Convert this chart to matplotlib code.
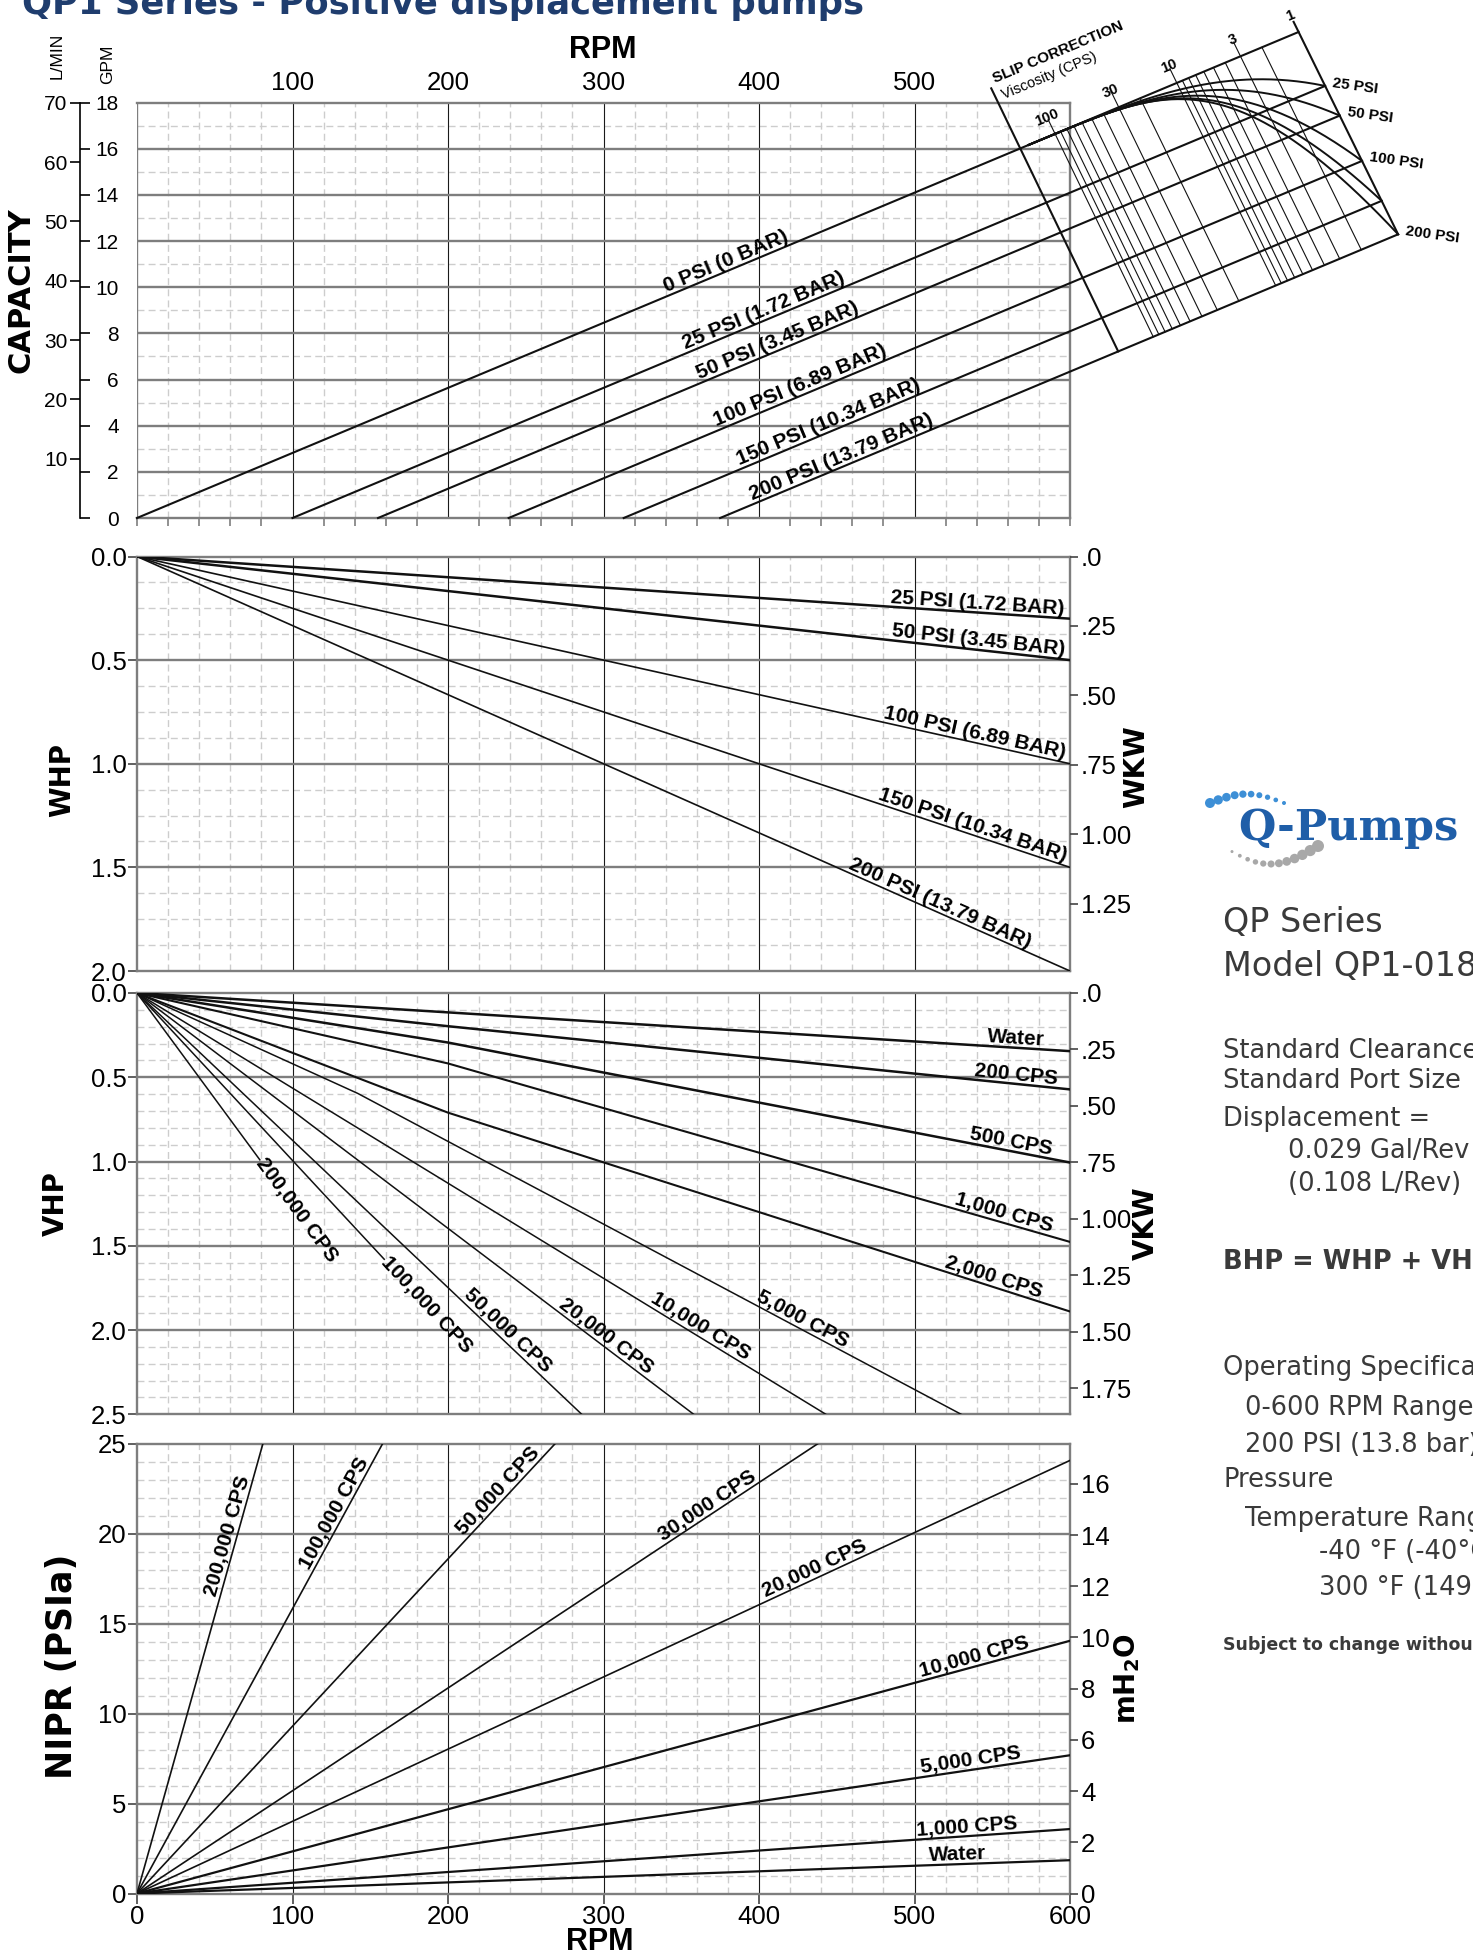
import numpy as np
import matplotlib.pyplot as plt

plt.rcParams['font.family'] = ['Liberation Sans', 'DejaVu Sans']

W, H, DPI = 1473, 1957, 100

# ---------------- values ----------------
rpm_ticks = [0, 100, 200, 300, 400, 500, 600]

# capacity: GPM = cap_slope * (RPM - start)
cap_slope = 0.0282
cap_names = ['0 PSI (0 BAR)', '25 PSI (1.72 BAR)', '50 PSI (3.45 BAR)',
             '100 PSI (6.89 BAR)', '150 PSI (10.34 BAR)', '200 PSI (13.79 BAR)']
cap_start = [0, 100, 155, 239, 313, 375]
cap_label_at = [381, 405, 414, 429, 447, 455]
gpm_ticks = list(range(0, 19, 2))
lmin_ticks = list(range(10, 71, 10))

# slip correction nomogram
slip_names = ['25 PSI', '50 PSI', '100 PSI', '', '200 PSI']
slip_power = [3.5, 3.5, 3.8, 4.0, 4.2]
visc_lines = [1, 2, 3, 4, 5, 6, 7, 8, 9, 10, 20, 30, 40, 50, 60, 70, 80, 90, 100]
visc_labels = [1, 3, 10, 30, 100]

# WHP
whp_names = ['25 PSI (1.72 BAR)', '50 PSI (3.45 BAR)', '100 PSI (6.89 BAR)',
             '150 PSI (10.34 BAR)', '200 PSI (13.79 BAR)']
whp_600 = [0.30, 0.50, 1.00, 1.50, 2.00]
whp_label_at = [596, 596, 596, 596, 572]
whp_ticks = [0, 0.5, 1.0, 1.5, 2.0]
kw_ticks = [0, 0.25, 0.50, 0.75, 1.00, 1.25]
kw_labels = ['.0', '.25', '.50', '.75', '1.00', '1.25']

# VHP (polylines)
vhp_names = ['Water', '200 CPS', '500 CPS', '1,000 CPS', '2,000 CPS', '5,000 CPS',
             '10,000 CPS', '20,000 CPS', '50,000 CPS', '100,000 CPS', '200,000 CPS']
vhp_rpm = [[0, 600], [0, 200, 600], [0, 200, 600], [0, 200, 600], [0, 200, 600],
           [0, 142, 530], [0, 443], [0, 358], [0, 286], [0, 159], [0, 79]]
vhp_val = [[0, 0.345], [0, 0.197, 0.572], [0, 0.294, 1.006], [0, 0.418, 1.477],
           [0, 0.71, 1.89], [0, 0.596, 2.5], [0, 2.5], [0, 2.5], [0, 2.5],
           [0, 1.58], [0, 0.99]]
vhp_label_at = [565, 565, 561, 556, 549, 425, 359, 298, 234, 159, 79]
vhp_ticks = [0, 0.5, 1.0, 1.5, 2.0, 2.5]
vkw_ticks = [0, 0.25, 0.50, 0.75, 1.00, 1.25, 1.50, 1.75]
vkw_labels = ['.0', '.25', '.50', '.75', '1.00', '1.25', '1.50', '1.75']

# NIPR (straight lines from origin)
nipr_names = ['Water', '1,000 CPS', '5,000 CPS', '10,000 CPS', '20,000 CPS',
              '30,000 CPS', '50,000 CPS', '100,000 CPS', '200,000 CPS']
nipr_end_rpm = [600, 600, 600, 600, 600, 438, 269, 158, 81]
nipr_end_val = [1.85, 3.58, 7.68, 14.04, 24.06, 25, 25, 25, 25]
nipr_label_at = [528, 534, 537, 540, 438, 370, 237, 132, 64]
nipr_ticks = [0, 5, 10, 15, 20, 25]
mh2o_ticks = list(range(0, 17, 2))

HP_TO_KW = 0.7457
PSI_TO_M = 0.7031
GPM_TO_L = 3.89

fig = plt.figure(figsize=(W / DPI, H / DPI), dpi=DPI)


def panel(top, bottom):
    return fig.add_axes([137 / W, 1 - bottom / H, (1070 - 137) / W, (bottom - top) / H])


def ftext(x, y, s, **kw):
    fig.text(x / W, 1 - y / H, s, **kw)


GRAY = '#7e7e7e'
LIGHT = '#cdcdcd'
TICKFS = 18.5


def grid(ax, ymaj, ymin):
    for x in range(20, 600, 20):
        if x % 100:
            ax.axvline(x, color=LIGHT, lw=1.0, ls=(0, (5, 3)), zorder=0.5)
    for y in ymin:
        ax.axhline(y, color=LIGHT, lw=1.0, ls=(0, (5, 3)), zorder=0.5)
    for x in range(100, 600, 100):
        ax.axvline(x, color='#1a1a1a', lw=0.8, zorder=1)
    for y in ymaj:
        ax.axhline(y, color=GRAY, lw=1.7, zorder=1)
    for sp in ax.spines.values():
        sp.set_color(GRAY)
        sp.set_linewidth(1.7)
    ax.set_xlim(0, 600)


def seg_slope(xs, ys, x):
    i = int(np.clip(np.searchsorted(xs, x) - 1, 0, len(xs) - 2))
    return (ys[i + 1] - ys[i]) / (xs[i + 1] - xs[i])


def line_label(ax, xs, ys, x, text, ha='center', va='bottom', size=15):
    y = np.interp(x, xs, ys)
    k = seg_slope(xs, ys, x)
    ax.text(x, y, text, rotation=np.degrees(np.arctan(k)), transform_rotates_text=True,
            rotation_mode='anchor', ha=ha, va=va, fontsize=size, fontweight='bold',
            zorder=6, clip_on=False)


def twin_right(ax, lim, ticks, labels, inverted):
    t = ax.twinx()
    t.set_ylim((lim, 0) if inverted else (0, lim))
    t.set_yticks(ticks)
    t.set_yticklabels(labels)
    t.tick_params(axis='y', direction='out', length=6, width=1.2, color='#444',
                  labelsize=TICKFS, pad=2)
    for sp in t.spines.values():
        sp.set_visible(False)
    return t


# ---------------- panel 1: capacity ----------------
ax1 = panel(102.7, 518)
grid(ax1, range(2, 18, 2), range(1, 18, 2))
ax1.set_ylim(0, 18)
ax1.axvline(0, color=GRAY, lw=1.7, zorder=1)
ax1.set_xticks([100, 200, 300, 400, 500])
ax1.tick_params(axis='x', which='major', top=False, bottom=False, labeltop=True,
                labelbottom=False, labelsize=TICKFS, pad=2)
ax1.set_xticks(np.arange(0, 601, 20), minor=True)
ax1.tick_params(axis='x', which='minor', bottom=True, top=False, length=6,
                direction='out', color=GRAY, width=1.2)
ax1.spines['left'].set_position(('outward', 41))
ax1.spines['left'].set_color('k')
ax1.spines['left'].set_linewidth(1.2)
ax1.set_yticks(gpm_ticks)
ax1.tick_params(axis='y', direction='in', length=7.5, width=1.2, color='k',
                labelsize=15, pad=-28)

axL = ax1.twinx()
axL.set_ylim(0, 18 * GPM_TO_L)
axL.yaxis.tick_left()
axL.set_yticks(lmin_ticks)
axL.tick_params(axis='y', direction='out', length=7, width=1.2, color='k',
                labelsize=15, pad=2, right=False, labelright=False)
for sp in axL.spines.values():
    sp.set_visible(False)
axL.spines['left'].set_position(('outward', 41))

# nomogram geometry (RPM positions along the 0 PSI and 200 PSI lines)
nomo_top = (568, 747)
nomo_bot = (631, 811)
visc_decade = 78.3


def nomo(f, s):
    f = np.asarray(f, float)
    s = np.asarray(s, float)
    rt = nomo_top[0] + f * (nomo_top[1] - nomo_top[0])
    rb = nomo_bot[0] + f * (nomo_bot[1] - nomo_bot[0])
    r = rt + s * (rb - rt)
    g = cap_slope * rt + s * (cap_slope * (rb - cap_start[-1]) - cap_slope * rt)
    return r, g


def visc_f(v):
    return (nomo_top[1] - np.log10(v) * visc_decade - nomo_top[0]) / (nomo_top[1] - nomo_top[0])


smax = cap_start[-1]
for name, st, lab_at in zip(cap_names, cap_start, cap_label_at):
    ex, ey = nomo(1.0, st / smax)
    ax1.plot([st, ex], [0, ey], color='#111', lw=1.5, clip_on=False, zorder=4)
    line_label(ax1, [st, 600], [0, cap_slope * (600 - st)], lab_at, name, size=15)

# axes of the nomogram
for f, s0 in ((0.0, -0.296), (1.0, -0.05)):
    r, g = nomo([f, f], [s0, 1.0])
    ax1.plot(r, g, color='#111', lw=1.5, clip_on=False, zorder=4)
for v in visc_lines[1:]:
    f = visc_f(v)
    s0 = -0.07 if v in visc_labels else 0.0
    r, g = nomo([f, f], [s0, 1.0])
    ax1.plot(r, g, color='#111', lw=0.8, clip_on=False, zorder=4)

ff = np.linspace(0.03, 1, 200)
for name, st, pw in zip(slip_names, cap_start[1:], slip_power):
    s_end = st / smax
    r, g = nomo(ff, s_end * ((ff - 0.03) / 0.97) ** pw)
    ax1.plot(r, g, color='#111', lw=1.4, clip_on=False, zorder=4)
    if name:
        ax1.annotate(name, nomo(1.0, s_end), xytext=(5, 0), textcoords='offset points',
                     ha='left', va='center', rotation=-8, fontsize=11, fontweight='bold',
                     annotation_clip=False)

p = ax1.transData.transform([(0, 0), (600, 600 * cap_slope)])
top_ang = np.degrees(np.arctan2(p[1, 1] - p[0, 1], p[1, 0] - p[0, 0]))
q = ax1.transData.transform(np.array(nomo([0, 0], [1, 0])).T)
up = (q[1] - q[0]) / np.hypot(*(q[1] - q[0]))
for v in visc_labels:
    ax1.annotate(str(v), nomo(visc_f(v), 0.0), xytext=(up[0] * 13, up[1] * 13),
                 textcoords='offset points', ha='center', va='center', rotation=top_ang,
                 fontsize=10.5, fontweight='bold', annotation_clip=False)
axis_top = nomo(0.0, -0.296)
ax1.annotate('SLIP CORRECTION', axis_top, xytext=(3, 4), textcoords='offset points',
             ha='left', va='baseline', rotation=top_ang, rotation_mode='anchor',
             fontsize=11, fontweight='bold', annotation_clip=False)
ax1.annotate('Viscosity (CPS)', axis_top, xytext=(9, -8), textcoords='offset points',
             ha='left', va='baseline', rotation=top_ang, rotation_mode='anchor',
             fontsize=10.5, annotation_clip=False)

# ---------------- panel 2: WHP ----------------
ax2 = panel(556.5, 971)
grid(ax2, [0.5, 1.0, 1.5], [y for y in np.arange(0.125, 2.0, 0.125) if y % 0.5])
ax2.set_ylim(2.0, 0)
ax2.set_xticks([])
ax2.set_yticks(whp_ticks)
ax2.set_yticklabels(['%.1f' % t for t in whp_ticks])
ax2.tick_params(axis='y', direction='out', length=6.5, width=1.2, color='#444',
                labelsize=TICKFS, pad=1)
twin_right(ax2, 2.0 * HP_TO_KW, kw_ticks, kw_labels, True)
for i, (name, v) in enumerate(zip(whp_names, whp_600)):
    ax2.plot([0, 600], [0, v], color='#111', lw=1.8 if i < 2 else 1.2, zorder=4)
    line_label(ax2, [0, 600], [0, v], whp_label_at[i], name, ha='right')

# ---------------- panel 3: VHP ----------------
ax3 = panel(993, 1414.3)
grid(ax3, [0.5, 1.0, 1.5, 2.0], [y for y in np.arange(0.1, 2.5, 0.1) if abs(y * 2 - round(y * 2)) > 1e-6])
ax3.set_ylim(2.5, 0)
ax3.set_xticks([])
ax3.set_yticks(vhp_ticks)
ax3.set_yticklabels(['%.1f' % t for t in vhp_ticks])
ax3.tick_params(axis='y', direction='out', length=6.5, width=1.2, color='#444',
                labelsize=TICKFS, pad=1)
twin_right(ax3, 2.5 * HP_TO_KW, vkw_ticks, vkw_labels, True)
for i, (name, xs, ys) in enumerate(zip(vhp_names, vhp_rpm, vhp_val)):
    lw = 1.8 if i < 3 else (1.5 if i < 5 else 1.1)
    ax3.plot(xs, ys, color='#111', lw=lw, zorder=4)
    if i >= 9:
        line_label(ax3, xs, ys, vhp_label_at[i], name, ha='left', va='center')
    else:
        line_label(ax3, xs, ys, vhp_label_at[i], name)

# ---------------- panel 4: NIPR ----------------
ax4 = panel(1443.5, 1893.5)
grid(ax4, [5, 10, 15, 20], [y for y in range(1, 25) if y % 5])
ax4.set_ylim(0, 25)
ax4.set_xticks(rpm_ticks)
ax4.tick_params(axis='x', direction='out', length=7, width=1.2, color='#444',
                labelsize=TICKFS, pad=1)
ax4.set_yticks(nipr_ticks)
ax4.tick_params(axis='y', direction='out', length=6.5, width=1.2, color='#444',
                labelsize=TICKFS, pad=1)
twin_right(ax4, 25 * PSI_TO_M, mh2o_ticks, [str(t) for t in mh2o_ticks], False)
for i, (name, xe, ye) in enumerate(zip(nipr_names, nipr_end_rpm, nipr_end_val)):
    ax4.plot([0, xe], [0, ye], color='#111', lw=1.6 if i < 4 else 1.2, zorder=4)
    line_label(ax4, [0, xe], [0, ye], nipr_label_at[i], name)

# ---------------- axis titles ----------------
ftext(603, 50, 'RPM', ha='center', va='center', fontsize=22, fontweight='bold')
ftext(600, 1942, 'RPM', ha='center', va='center', fontsize=22, fontweight='bold')
ftext(57, 56, 'L/MIN', ha='center', va='center', rotation=90, fontsize=12.5)
ftext(108, 64, 'GPM', ha='center', va='center', rotation=90, fontsize=12.5)
bold = dict(ha='center', va='center', rotation=90, fontweight='bold', family='DejaVu Sans')
ftext(21, 290, 'CAPACITY', fontsize=22, **bold)
ftext(62, 780, 'WHP', fontsize=20, **bold)
ftext(56, 1204, 'VHP', fontsize=20, **bold)
ftext(62, 1666, 'NIPR (PSIa)', fontsize=25, **bold)
ftext(1136, 767, 'WKW', fontsize=20, **bold)
ftext(1146, 1223, 'VKW', fontsize=20, **bold)
ftext(1127, 1679, r'mH$_\mathbf{2}$O', fontsize=20, **bold)

# ---------------- title ----------------
ftext(22, 14, 'QP1 Series - Positive displacement pumps', ha='left', va='baseline',
      fontsize=25.5, fontweight='bold', color='#1f3d6e', family='DejaVu Sans')

# ---------------- logo ----------------
axo = fig.add_axes([0, 0, 1, 1], zorder=-1)
axo.set_xlim(0, W)
axo.set_ylim(H, 0)
axo.axis('off')
t = np.linspace(0, 1, 10)
axo.scatter(1210 + 74 * t, 803 - 9 * np.sin(np.pi * t), s=(0.72 * (10 - 6 * t)) ** 2,
            color='#3d8fd6', lw=0)
t = np.linspace(0, 1, 12)
axo.scatter(1232 + 86 * t, 846 + 18 * np.sin(np.pi * (0.1 + 0.9 * t)), s=(0.72 * (3 + 9 * t)) ** 2,
            color='#a8a8a8', lw=0)
ftext(1238, 840, 'Q-Pumps', ha='left', va='baseline', fontsize=31, fontweight='bold',
      family='DejaVu Serif', color='#1f5ea8')

# ---------------- spec text ----------------
txt = dict(ha='left', va='center', family='DejaVu Sans', color='#3a3a3a')
ftext(1223, 923, 'QP Series', fontsize=24, **txt)
ftext(1223, 967, 'Model QP1-018', fontsize=24, **txt)
ftext(1223, 1051, 'Standard Clearance', fontsize=18.5, **txt)
ftext(1223, 1081, 'Standard Port Size', fontsize=18.5, **txt)
ftext(1223, 1119, 'Displacement =', fontsize=18.5, **txt)
ftext(1288, 1151, '0.029 Gal/Rev', fontsize=18.5, **txt)
ftext(1288, 1184, '(0.108 L/Rev)', fontsize=18.5, **txt)
ftext(1223, 1262, 'BHP = WHP + VHP', fontsize=18.5, fontweight='bold', **txt)
ftext(1223, 1368, 'Operating Specifications', fontsize=18.5, **txt)
ftext(1245, 1408, '0-600 RPM Range', fontsize=18.5, **txt)
ftext(1245, 1445, '200 PSI (13.8 bar) Max', fontsize=18.5, **txt)
ftext(1223, 1480, 'Pressure', fontsize=18.5, **txt)
ftext(1245, 1519, 'Temperature Range', fontsize=18.5, **txt)
ftext(1319, 1552, '-40 \u00b0F (-40\u00b0C) to', fontsize=18.5, **txt)
ftext(1319, 1588, '300 \u00b0F (149\u00b0C)', fontsize=18.5, **txt)
ftext(1223, 1645, 'Subject to change without notice', fontsize=12.5, fontweight='bold', **txt)

fig.savefig('out.png', dpi=DPI)
